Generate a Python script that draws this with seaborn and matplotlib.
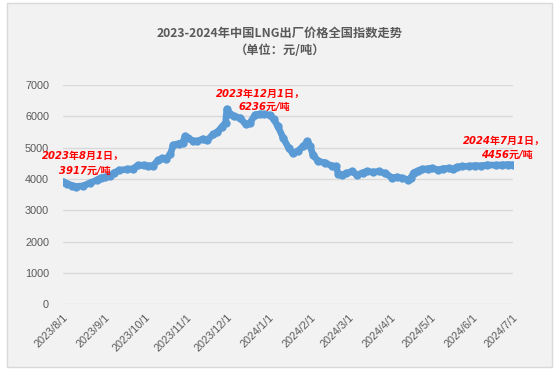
import matplotlib
matplotlib.use("Agg")
import matplotlib.pyplot as plt
import matplotlib.patches as mpatches
import seaborn as sns
import pandas as pd

dates = ["2023-08-01","2023-08-04","2023-08-08","2023-08-11","2023-08-16","2023-08-21","2023-08-26","2023-08-29",
         "2023-09-01","2023-09-05","2023-09-08","2023-09-12","2023-09-18","2023-09-22","2023-09-26","2023-09-30",
         "2023-10-03","2023-10-07","2023-10-11","2023-10-14","2023-10-17","2023-10-20","2023-10-22","2023-10-26",
         "2023-10-29","2023-10-31","2023-11-02","2023-11-06","2023-11-09","2023-11-13","2023-11-16","2023-11-21",
         "2023-11-24","2023-11-27","2023-11-30","2023-12-01","2023-12-03","2023-12-06","2023-12-11","2023-12-15",
         "2023-12-18","2023-12-22","2023-12-26","2023-12-29","2024-01-02","2024-01-05","2024-01-08","2024-01-12",
         "2024-01-16","2024-01-19","2024-01-23","2024-01-27","2024-01-30","2024-02-01","2024-02-03","2024-02-07",
         "2024-02-12","2024-02-17","2024-02-20","2024-02-22","2024-02-25","2024-02-28","2024-03-03","2024-03-07",
         "2024-03-11","2024-03-14","2024-03-19","2024-03-23","2024-03-28","2024-04-02","2024-04-06","2024-04-09",
         "2024-04-14","2024-04-16","2024-04-18","2024-04-21","2024-04-24","2024-04-29","2024-05-02","2024-05-06",
         "2024-05-10","2024-05-14","2024-05-17","2024-05-20","2024-05-24","2024-05-29","2024-06-03","2024-06-07",
         "2024-06-12","2024-06-18","2024-06-23","2024-06-27","2024-07-01"]
prices = [3917,3850,3790,3760,3780,3875,3960,4035,
          4060,4100,4200,4280,4310,4330,4440,4440,
          4420,4430,4600,4660,4650,4800,5080,5130,
          5160,5370,5300,5220,5200,5280,5230,5430,
          5500,5650,5800,6236,6080,6000,5950,5740,
          5780,6050,6080,6060,6040,5900,5680,5300,
          4990,4820,4900,5050,5200,5050,4780,4560,
          4520,4420,4400,4170,4130,4180,4240,4130,
          4200,4240,4220,4240,4180,4040,4060,4030,
          3980,4040,4200,4260,4310,4330,4345,4290,
          4330,4345,4310,4380,4400,4410,4430,4420,
          4450,4440,4450,4460,4456]

month_ticks = ["2023-08-01","2023-09-01","2023-10-01","2023-11-01","2023-12-01","2024-01-01",
               "2024-02-01","2024-03-01","2024-04-01","2024-05-01","2024-06-01","2024-07-01"]
tick_labels = ["2023/8/1","2023/9/1","2023/10/1","2023/11/1","2023/12/1","2024/1/1",
               "2024/2/1","2024/3/1","2024/4/1","2024/5/1","2024/6/1","2024/7/1"]
y_ticks = [0, 1000, 2000, 3000, 4000, 5000, 6000, 7000]

title = "2023-2024年中国LNG出厂价格全国指数走势"
subtitle = "（单位：元/吨）"
annotations = [("2023-08-01", 3917, "2023年8月1日，", "3917元/吨"),
               ("2023-12-01", 6236, "2023年12月1日，", "6236元/吨"),
               ("2024-07-01", 4456, "2024年7月1日，", "4456元/吨")]

sns.set_theme(style="white")
plt.rcParams['font.family'] = ['Noto Sans CJK SC', 'DejaVu Sans']

df = pd.DataFrame({"date": pd.to_datetime(dates), "price": prices})

fig = plt.figure(figsize=(5.6, 3.77), dpi=100)
fig.patch.set_facecolor("white")
frame = mpatches.Rectangle((7/560, 1 - 367/377), (552-7)/560, (367-3)/377,
                           transform=fig.transFigure, facecolor="#f2f2f2",
                           edgecolor="#d9d9d9", linewidth=1, zorder=-10)
fig.patches.append(frame)

ax = fig.add_axes([63/560, 1 - 304.3/377, (513-63)/560, (304.3-85)/377])
ax.set_zorder(1)
ax.set_facecolor("none")
ax.patch.set_alpha(0)

sns.lineplot(data=df, x="date", y="price", ax=ax, color="#5b9bd5", linewidth=4.8,
             marker="o", markersize=6, markeredgewidth=0, zorder=3)

ax.set_ylim(0, 7000)
ax.set_yticks(y_ticks)
ax.set_yticklabels([str(v) for v in y_ticks])
ax.set_xlim(pd.Timestamp("2023-08-01"), pd.Timestamp("2024-07-01"))
ax.set_xticks(pd.to_datetime(month_ticks))
ax.set_xticklabels(tick_labels, rotation=45, ha="right", rotation_mode="anchor")
ax.set_xlabel("")
ax.set_ylabel("")
ax.grid(axis="y", color="#d9d9d9", linewidth=1)
ax.grid(axis="x", visible=False)
for s in ax.spines.values():
    s.set_visible(False)
ax.tick_params(axis="both", length=0, labelcolor="#595959", labelsize=7.8)
ax.tick_params(axis="y", pad=10)
ax.tick_params(axis="x", pad=6)
for lab in ax.get_xticklabels() + ax.get_yticklabels():
    lab.set_family(["Liberation Sans", "DejaVu Sans"])

fig.text(0.5, 1 - 33/377, title, ha="center", va="center", fontsize=8.8,
         fontweight="bold", color="#595959")
fig.text(0.5, 1 - 50/377, subtitle, ha="center", va="center", fontsize=8.8,
         fontweight="bold", color="#595959")

offsets = [((20, 26), (22, 11)), ((34, 15), (37, 2)), ((-9, 24), (-6, 10))]
for (d, v, l1, l2), (o1, o2) in zip(annotations, offsets):
    for txt, off in ((l1, o1), (l2, o2)):
        ax.annotate(txt, xy=(pd.Timestamp(d), v), xytext=off, textcoords="offset pixels",
                    ha="center", va="center", fontsize=7.2, fontweight="bold",
                    style="italic", color="#ff0000",
                    family=["DejaVu Sans", "Noto Sans CJK SC"], zorder=5,
                    annotation_clip=False)

fig.savefig("out.png", dpi=100)
